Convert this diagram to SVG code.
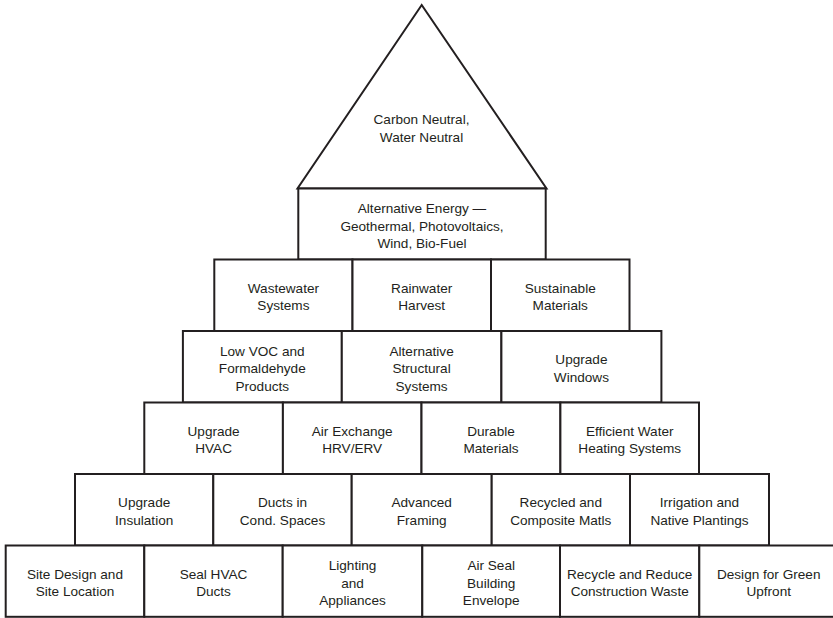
<svg xmlns="http://www.w3.org/2000/svg" width="833" height="618" viewBox="0 0 833 618">
<style>
.b{fill:#fff;stroke:#231f20;stroke-width:2;stroke-linejoin:miter}
.t{font-family:"Liberation Sans",Arial,sans-serif;font-size:13.6px;fill:#231f20;text-anchor:middle}
</style>
<rect width="833" height="618" fill="#fff"/>
<g id="top">
<polygon class="b" points="421.7,5 297.5,188.5 546.5,188.5"/>
<text class="t" x="421.5" y="124">Carbon Neutral,</text>
<text class="t" x="421.5" y="142.3">Water Neutral</text>
</g>
<g id="alt-energy">
<rect class="b" x="298.3" y="188.5" width="247.4" height="71"/>
<text class="t" x="422" y="213">Alternative Energy —</text>
<text class="t" x="422" y="230.5">Geothermal, Photovoltaics,</text>
<text class="t" x="422" y="248">Wind, Bio-Fuel</text>
</g>
<g id="wastewater">
<rect class="b" x="214.3" y="259.5" width="138.2" height="71.5"/>
<text class="t" x="283.4" y="292.5">Wastewater</text>
<text class="t" x="283.4" y="310">Systems</text>
</g>
<g id="rainwater">
<rect class="b" x="352.5" y="259.5" width="138.5" height="71.5"/>
<text class="t" x="421.7" y="292.5">Rainwater</text>
<text class="t" x="421.7" y="310">Harvest</text>
</g>
<g id="sustainable">
<rect class="b" x="491" y="259.5" width="138.5" height="71.5"/>
<text class="t" x="560.2" y="292.5">Sustainable</text>
<text class="t" x="560.2" y="310">Materials</text>
</g>
<g id="lowvoc">
<rect class="b" x="182.9" y="331" width="158.9" height="71.5"/>
<text class="t" x="262.3" y="355.5">Low VOC and</text>
<text class="t" x="262.3" y="373">Formaldehyde</text>
<text class="t" x="262.3" y="390.5">Products</text>
</g>
<g id="altstruct">
<rect class="b" x="341.8" y="331" width="159.6" height="71.5"/>
<text class="t" x="421.6" y="355.5">Alternative</text>
<text class="t" x="421.6" y="373">Structural</text>
<text class="t" x="421.6" y="390.5">Systems</text>
</g>
<g id="windows">
<rect class="b" x="501.4" y="331" width="160" height="71.5"/>
<text class="t" x="581.4" y="364">Upgrade</text>
<text class="t" x="581.4" y="381.5">Windows</text>
</g>
<g id="hvac">
<rect class="b" x="144.3" y="402.5" width="138.6" height="71.5"/>
<text class="t" x="213.6" y="435.5">Upgrade</text>
<text class="t" x="213.6" y="453">HVAC</text>
</g>
<g id="airexchange">
<rect class="b" x="282.9" y="402.5" width="138.6" height="71.5"/>
<text class="t" x="352.2" y="435.5">Air Exchange</text>
<text class="t" x="352.2" y="453">HRV/ERV</text>
</g>
<g id="durable">
<rect class="b" x="421.5" y="402.5" width="138.9" height="71.5"/>
<text class="t" x="491" y="435.5">Durable</text>
<text class="t" x="491" y="453">Materials</text>
</g>
<g id="waterheating">
<rect class="b" x="560.4" y="402.5" width="138.6" height="71.5"/>
<text class="t" x="629.7" y="435.5">Efficient Water</text>
<text class="t" x="629.7" y="453">Heating Systems</text>
</g>
<g id="insulation">
<rect class="b" x="75" y="474" width="138.3" height="71.5"/>
<text class="t" x="144.2" y="507">Upgrade</text>
<text class="t" x="144.2" y="524.5">Insulation</text>
</g>
<g id="ducts">
<rect class="b" x="213.3" y="474" width="138.4" height="71.5"/>
<text class="t" x="282.5" y="507">Ducts in</text>
<text class="t" x="282.5" y="524.5">Cond. Spaces</text>
</g>
<g id="framing">
<rect class="b" x="351.7" y="474" width="140" height="71.5"/>
<text class="t" x="421.7" y="507">Advanced</text>
<text class="t" x="421.7" y="524.5">Framing</text>
</g>
<g id="recycled">
<rect class="b" x="491.7" y="474" width="138.3" height="71.5"/>
<text class="t" x="560.8" y="507">Recycled and</text>
<text class="t" x="560.8" y="524.5">Composite Matls</text>
</g>
<g id="irrigation">
<rect class="b" x="630" y="474" width="139" height="71.5"/>
<text class="t" x="699.5" y="507">Irrigation and</text>
<text class="t" x="699.5" y="524.5">Native Plantings</text>
</g>
<g id="site">
<rect class="b" x="5.7" y="545.5" width="138.6" height="71.3"/>
<text class="t" x="75" y="578.5">Site Design and</text>
<text class="t" x="75" y="596">Site Location</text>
</g>
<g id="sealhvac">
<rect class="b" x="144.3" y="545.5" width="138.4" height="71.3"/>
<text class="t" x="213.5" y="578.5">Seal HVAC</text>
<text class="t" x="213.5" y="596">Ducts</text>
</g>
<g id="lighting">
<rect class="b" x="282.7" y="545.5" width="139.6" height="71.3"/>
<text class="t" x="352.5" y="570">Lighting</text>
<text class="t" x="352.5" y="587.5">and</text>
<text class="t" x="352.5" y="605">Appliances</text>
</g>
<g id="airseal">
<rect class="b" x="422.3" y="545.5" width="137.7" height="71.3"/>
<text class="t" x="491.2" y="570">Air Seal</text>
<text class="t" x="491.2" y="587.5">Building</text>
<text class="t" x="491.2" y="605">Envelope</text>
</g>
<g id="waste">
<rect class="b" x="560" y="545.5" width="139.3" height="71.3"/>
<text class="t" x="629.7" y="578.5">Recycle and Reduce</text>
<text class="t" x="629.7" y="596">Construction Waste</text>
</g>
<g id="designgreen">
<rect class="b" x="699.3" y="545.5" width="138.7" height="71.3"/>
<text class="t" x="768.7" y="578.5">Design for Green</text>
<text class="t" x="768.7" y="596">Upfront</text>
</g>
</svg>
